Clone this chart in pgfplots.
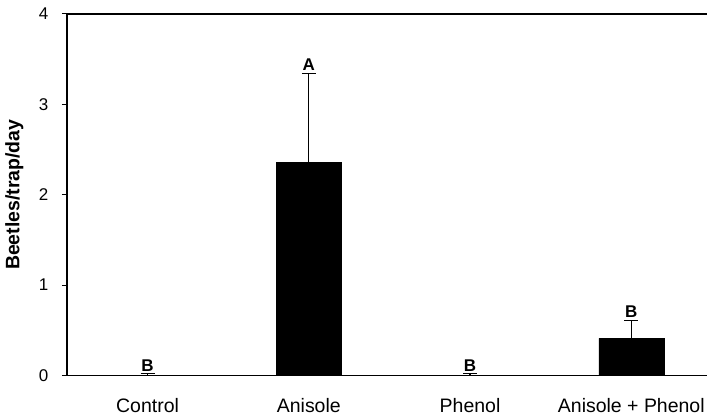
\documentclass[border=0pt]{standalone}
\usepackage{fontspec}
\setmainfont{Liberation Sans}
\usepackage{pgfplots}
\pgfplotsset{compat=1.18}
\usepackage{pgfplotstable}
\pgfplotstableread{
x   y     err
0   0.00  0.02
1   2.36  0.98
2   0.00  0.02
3   0.41  0.20
}\bars
\pgfplotstableread{
x   top   lab
0   0.02  B
1   3.34  A
2   0.02  B
3   0.61  B
}\letters
\begin{document}
\begin{tikzpicture}
\begin{axis}[
  scale only axis,
  width=641pt, height=362pt,
  xmin=-0.5, xmax=3.47,
  ymin=0, ymax=4,
  axis lines=left,
  axis line style={-, line width=1.4pt},
  ytick={0,1,2,3,4},
  xtick={0,1,2,3},
  xticklabels={Control, Anisole, Phenol, Anisole + Phenol},
  xtick style={draw=none},
  ytick style={line width=1pt, black},
  tick align=outside,
  major tick length=5pt,
  /pgf/number format/assume math mode=true,
  yticklabel style={font=\fontsize{17}{18}\selectfont, xshift=-10pt},
  xticklabel style={font=\fontsize{19.5}{22}\selectfont, yshift=-14pt},
  ylabel={\textbf{Beetles/trap/day}},
  ylabel style={font=\fontsize{19.5}{22}\selectfont, at={([xshift=-40pt]axis description cs:0,0.5)}, anchor=south},
  clip=false,
]
\addplot[ybar, bar width=65pt, fill=black, draw=black,
  error bars/.cd, y dir=plus, y explicit,
  error bar style={line width=1.3pt, black},
  error mark options={rotate=90, mark size=7pt, line width=1.3pt}]
  table[x=x, y=y, y error=err] {\bars};
\addplot[draw=none, mark=none, nodes near coords, point meta=explicit symbolic,
  every node near coord/.style={font=\fontsize{17}{18}\selectfont\bfseries, anchor=south, inner sep=2.5pt}]
  table[x=x, y=top, meta=lab] {\letters};
\draw[line width=1.4pt] (rel axis cs:0,1) -- (rel axis cs:1,1);
\path ([xshift=-67pt,yshift=-42pt]rel axis cs:0,0) rectangle ([yshift=14pt]rel axis cs:1,1);
\end{axis}
\end{tikzpicture}
\end{document}
